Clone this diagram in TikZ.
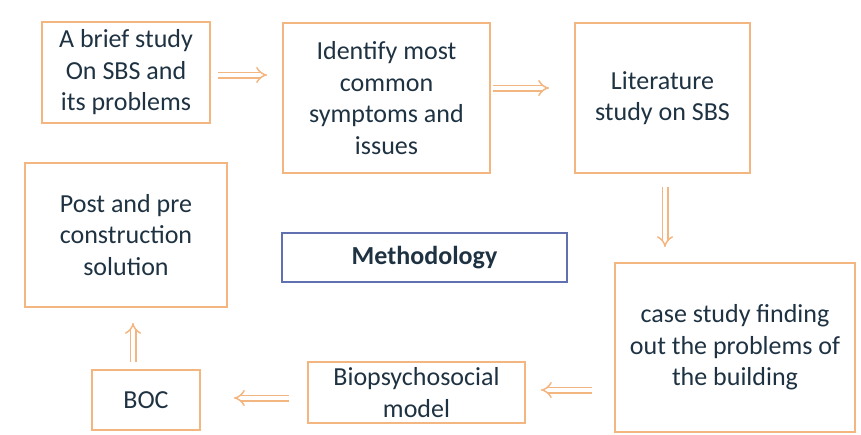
\documentclass[tikz,border=0pt]{standalone}
\usepackage{fontspec}
\setmainfont{Carlito}
\usetikzlibrary{arrows.meta}
\definecolor{boxorange}{RGB}{244,182,128}
\definecolor{boxblue}{RGB}{96,112,176}
\definecolor{inktext}{RGB}{30,50,66}
\begin{document}
\begin{tikzpicture}[x=1pt,y=-1pt,
	box/.style={draw=boxorange, line width=2pt, rectangle, align=center, text=inktext,
		font=\fontsize{26}{31.5}\selectfont, inner sep=0pt},
	methbox/.style={draw=boxblue, line width=1.5pt, rectangle, align=center, text=inktext,
		font=\fontsize{26}{31.5}\selectfont\bfseries, inner sep=0pt},
	flow/.style={draw=boxorange, double=white, double distance=4pt, line width=1.5pt,
		-{Implies[length=6pt]}}]
			\useasboundingbox (0,0) rectangle (861,434);
			\node	(brief) at (126,72.5) [box, minimum width=168pt, minimum height=101pt] {A brief study\\On SBS and\\its problems};
			\node	(identify) at (386.5,98) [box, minimum width=207pt, minimum height=150pt] {Identify most\\common\\symptoms and\\issues};
			\node	(litstudy) at (662.5,98) [box, minimum width=175pt, minimum height=150pt] {Literature\\study on SBS};
			\node	(casestudy) at (735,347.5) [box, minimum width=240pt, minimum height=169pt] {case study finding\\out the problems of\\the building};
			\node	(biomodel) at (416.5,392.5) [box, minimum width=217pt, minimum height=61pt] {Biopsychosocial\\model};
			\node	(boc) at (146,400) [box, minimum width=108pt, minimum height=60pt] {BOC};
			\node	(postpre) at (126,235) [box, minimum width=202pt, minimum height=144pt] {Post and pre\\construction\\solution};
			\node	(method) at (424.5,257.5) [methbox, minimum width=285pt, minimum height=49pt] {Methodology};
			
			\draw 
			([yshift=-2.5pt]brief.east) edge[flow, shorten <=7pt, shorten >=15pt] ([yshift=-2.5pt]brief.east -| identify.west)
			([yshift=10pt]identify.east) edge[flow, shorten <=2pt, shorten >=25pt] ([yshift=10pt]identify.east -| litstudy.west)
			([xshift=2.5pt]litstudy.south) edge[flow, shorten <=13pt, shorten >=15pt] ([xshift=2.5pt]litstudy.south |- casestudy.north)
			([yshift=2.5pt]biomodel.east -| casestudy.west) edge[flow, shorten <=22pt, shorten >=15pt] ([yshift=2.5pt]biomodel.east)
			([yshift=-5.5pt]biomodel.west) edge[flow, shorten <=18pt, shorten >=33pt] ([yshift=-5.5pt]biomodel.west -| boc.east)
			([xshift=-13pt]boc.north) edge[flow, shorten <=7pt, shorten >=15pt] ([xshift=-13pt]boc.north |- postpre.south)
			;
		\end{tikzpicture}
\end{document}
